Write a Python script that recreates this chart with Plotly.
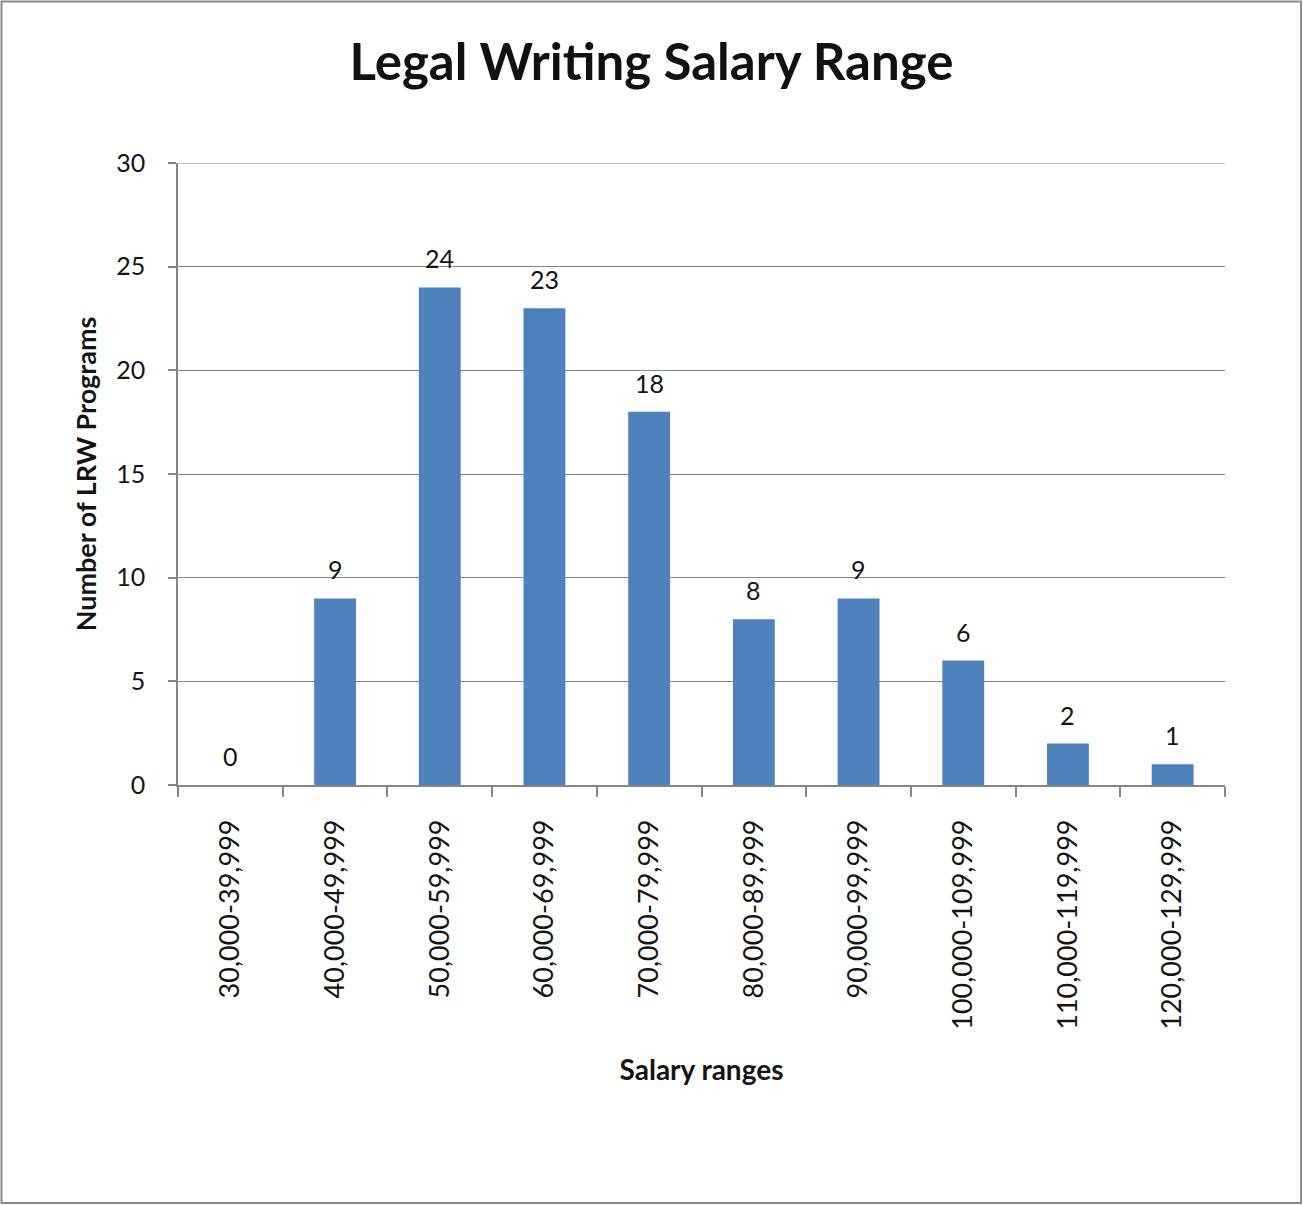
import plotly.graph_objects as go

categories = ["30,000-39,999", "40,000-49,999", "50,000-59,999", "60,000-69,999",
              "70,000-79,999", "80,000-89,999", "90,000-99,999", "100,000-109,999",
              "110,000-119,999", "120,000-129,999"]
counts = [0, 9, 24, 23, 18, 8, 9, 6, 2, 1]
y_max = 30

W, H = 1303, 1205
L, R, T, B = 178, 1225, 163, 785
pw, ph = R - L, B - T

def px_x(x):
    return (x - L) / pw

def px_y(y):
    return (B - y) / ph

FONT = "Lato"
TXT = "#141414"
GRID = "#868686"
fig = go.Figure(go.Bar(
    x=categories, y=counts, width=0.4,
    marker=dict(color="#4F81BD", line=dict(width=0)),
    cliponaxis=False, hoverinfo="x+y",
))

for c, v in zip(categories, counts):
    fig.add_annotation(x=c, y=v, text=str(v), showarrow=False,
                       yshift=29, font=dict(family=FONT, size=25, color=TXT))

fig.update_layout(
    width=W, height=H,
    margin=dict(l=L, r=W - R, t=T, b=H - B),
    paper_bgcolor="white", plot_bgcolor="white",
    showlegend=False,
    title=dict(text="<b>Legal Writing Salary Range</b>", x=0.5, xref="container",
               xanchor="center", y=1 - 62 / H, yanchor="middle",
               font=dict(family=FONT, size=51, color="#111")),
    font=dict(family=FONT, color=TXT),
)
fig.update_xaxes(
    type="category", tickangle=-90, tickfont=dict(size=27, family=FONT, color=TXT),
    showline=True, linecolor=GRID, linewidth=1.5,
    ticks="outside", tickson="boundaries", ticklen=10, tickcolor=GRID, tickwidth=1.5,
    ticklabelstandoff=22,
    showgrid=False,
    title=dict(text="<b>Salary ranges</b>", font=dict(size=28, family=FONT, color=TXT), standoff=32),
)
fig.update_yaxes(
    range=[0, y_max], tickmode="linear", tick0=0, dtick=5,
    tickfont=dict(size=25, family=FONT, color=TXT),
    showline=True, linecolor=GRID, linewidth=1.5,
    ticks="outside", ticklen=8, tickcolor=GRID, tickwidth=1.5,
    ticklabelstandoff=18,
    showgrid=True, gridcolor=GRID, gridwidth=1.2,
    zeroline=False,
    title=dict(text="<b>Number of LRW Programs</b>", font=dict(size=27, family=FONT, color=TXT), standoff=12),
)
# top gridline at the axis maximum
fig.add_shape(type="line", xref="paper", yref="y", x0=0, x1=1, y0=y_max, y1=y_max,
              line=dict(color=GRID, width=1.2), layer="below")
# outer chart border
fig.add_shape(type="rect", xref="paper", yref="paper",
              x0=px_x(1.5), x1=px_x(W - 2), y0=px_y(H - 2), y1=px_y(1.5),
              line=dict(color="#8c8c8c", width=2), layer="below")

fig.write_html("out.html", config={"displayModeBar": False},
               post_script="document.body.style.margin='0';")
